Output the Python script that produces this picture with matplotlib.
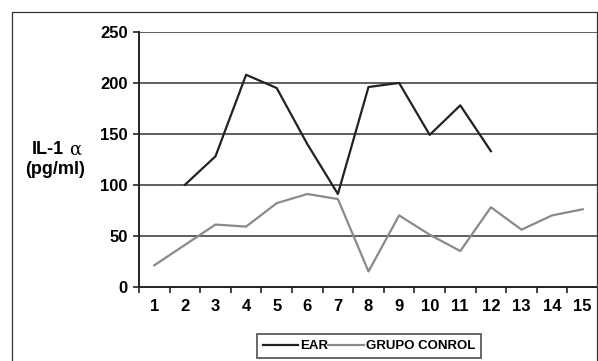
import matplotlib
matplotlib.use("Agg")
import matplotlib.pyplot as plt
from matplotlib.patches import Rectangle
import numpy as np

categories = list(range(1, 16))
ear_x = [2, 3, 4, 5, 6, 7, 8, 9, 10, 11, 12]
ear_values = [100, 128, 208, 195, 140, 91, 196, 200, 149, 178, 133]
control_values = [21, 41, 61, 59, 82, 91, 86, 15, 70, 51, 35, 78, 56, 70, 76]
yticks = [0, 50, 100, 150, 200, 250]

plt.rcParams['font.family'] = ['Liberation Sans', 'DejaVu Sans']

fig = plt.figure(figsize=(5.98, 3.61), dpi=100)
W, H = 598, 361
ax = fig.add_axes([139 / W, 1 - 286.7 / H, (598 - 139) / W, (286.7 - 32) / H])

ax.plot(categories, control_values, color='#8a8a8a', lw=1.6, label='GRUPO CONROL', zorder=3)
ax.plot(ear_x, ear_values, color='#222222', lw=1.6, label='EAR', zorder=4)

ax.set_xlim(0.5, 15.5)
ax.set_ylim(0, 250)
ax.set_yticks(yticks)
ax.set_yticklabels([str(v) for v in yticks], fontsize=12, fontweight='bold')
ax.set_xticks(categories)
ax.set_xticklabels([str(c) for c in categories], fontsize=12, fontweight='bold')
ax.set_xticks(np.arange(0.5, 15.6, 1.0), minor=True)
ax.tick_params(axis='x', which='major', length=0, pad=9)
ax.tick_params(axis='x', which='minor', length=4, width=1.2, direction='out', color='#222222')
ax.tick_params(axis='y', length=4, width=1.2, direction='out', color='#222222', pad=4)

for v in yticks[1:]:
    ax.axhline(v, color='#333333', lw=1.1, zorder=1)

for s in ['top', 'right']:
    ax.spines[s].set_visible(False)
ax.spines['left'].set_linewidth(1.4)
ax.spines['bottom'].set_linewidth(1.4)
ax.spines['left'].set_color('#222222')
ax.spines['bottom'].set_color('#222222')

# outer frame
fig.patches.append(Rectangle((12 / W, -0.1), (597 - 12) / W, 1.1 - 12 / H,
                             transform=fig.transFigure, fill=False,
                             edgecolor='#333333', lw=0.9))

# y label
fig.text(48 / W, 1 - 149 / H, 'IL-1', fontsize=13, fontweight='bold', ha='center', va='center')
fig.text(75 / W, 1 - 150 / H, 'α', fontsize=13, ha='center', va='center', family='DejaVu Serif')
fig.text(55 / W, 1 - 170 / H, '(pg/ml)', fontsize=13, fontweight='bold', ha='center', va='center')

handles, labels = ax.get_legend_handles_labels()
leg = fig.legend([handles[1], handles[0]], [labels[1], labels[0]],
                 loc='center', bbox_to_anchor=(369 / W, 1 - 346 / H), ncol=2,
                 frameon=True, fancybox=False,
                 prop={'weight': 'bold', 'size': 9.5},
                 handlelength=2.7, handletextpad=0.15, columnspacing=0.0,
                 borderpad=0.45, borderaxespad=0)
leg.get_frame().set_edgecolor('#222222')
leg.get_frame().set_linewidth(1.2)

fig.savefig('out.png', dpi=100)
